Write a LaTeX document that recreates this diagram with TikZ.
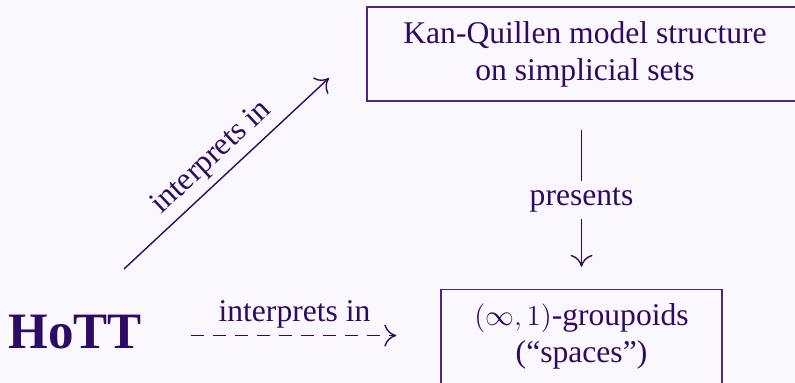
\documentclass[tikz,border=0pt]{standalone}
\usepackage{fontspec}
\setmainfont{Liberation Serif}
\usetikzlibrary{arrows.meta}
\definecolor{ink}{HTML}{2D0B62}
\definecolor{frame}{HTML}{47297F}
\definecolor{paper}{HTML}{FAF7FE}

\begin{document}
\begin{tikzpicture}[x=0.5pt,y=-0.5pt,
	every node/.style={text=ink,font=\fontsize{15.8}{18.5}\selectfont},
	boxed/.style={draw=frame,line width=0.7pt,align=center,minimum height=47pt,inner sep=0pt},
	arr/.style={draw=ink,line width=0.7pt,-{To[length=6pt,width=11pt]}}]
	\def\gap{14pt}

	\useasboundingbox (0,0) rectangle (795,383);
	\fill[paper] (0,0) rectangle (795,383);
	\clip (0,0) rectangle (795,383);

	\node[boxed,minimum width=218pt] (kq) at (585,54) {Kan-Quillen model structure\\on simplicial sets};
	\node[boxed,minimum width=140.5pt] (grp) at (581.5,336.5) {$(\infty,1)$-groupoids\\(“spaces”)};
	\node[font=\fontsize{25.5}{30}\selectfont\bfseries,anchor=base] (hott) at (75,349) {HoTT};

	\coordinate (up0) at (124,269);
	\coordinate (up1) at (329,78);

	\draw[arr] (up0) -- node[sloped,above] {interprets in} (up1);
	\draw[arr,dash pattern=on 6.5pt off 4.5pt,shorten <=21pt,shorten >=22pt] ([yshift=-1.5pt]hott.east) -- node[above,pos=0.5] {interprets in} ([yshift=-1.5pt]hott.east -| grp.west);
	\draw[arr,shorten <=\gap,shorten >=11pt] (grp.north |- kq.south) -- node[fill=paper,yshift=-2.5pt] {presents} (grp.north);
\end{tikzpicture}
\end{document}
